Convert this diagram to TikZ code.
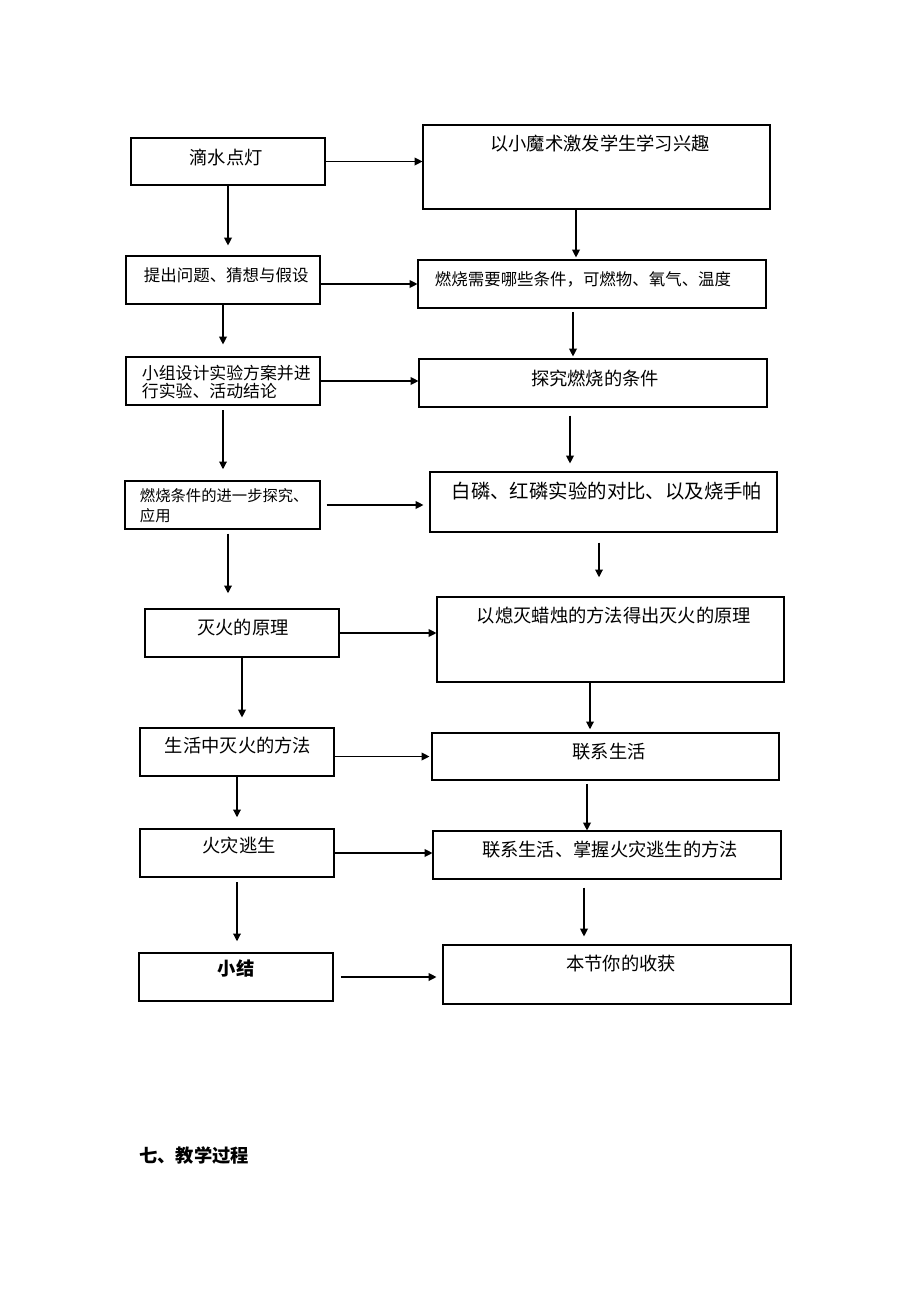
\documentclass[tikz,border=0pt]{standalone}
\usepackage{fontspec}
\setmainfont{Noto Sans CJK SC}
\usepackage{tikz}
\usetikzlibrary{arrows.meta}
\usetikzlibrary{fit}

\begin{document}
\begin{tikzpicture}[x=0.025cm,y=-0.025cm,
    box/.style={draw,line width=0.8pt,inner sep=0pt},
    big/.style={font=\fontsize{13}{15}\selectfont},
    bigbold/.style={font=\fontsize{13}{15}\selectfont\bfseries},
    small/.style={font=\fontsize{11.7}{13}\selectfont},
    arr/.style={line width=0.8pt,-{Triangle[length=5.5pt,width=5.5pt]}}]
    \useasboundingbox (0,0) rectangle (920,1302);
    % left column
    \node[box,fit={(131,138) (325,185)}] (l1) {};
    \node[box,fit={(126,256) (320,304)}] (l2) {};
    \node[box,fit={(126,357) (320,405)}] (l3) {};
    \node[box,fit={(125,481) (320,529)}] (l4) {};
    \node[box,fit={(145,609) (339,657)}] (l5) {};
    \node[box,fit={(140,728) (334,776)}] (l6) {};
    \node[box,fit={(140,829) (334,877)}] (l7) {};
    \node[box,fit={(139,953) (333,1001)}] (l8) {};
    % right column
    \node[box,fit={(423,125) (770,209)}] (r1) {};
    \node[box,fit={(418,260) (766,308)}] (r2) {};
    \node[box,fit={(419,359) (767,407)}] (r3) {};
    \node[box,fit={(430,472) (777,532)}] (r4) {};
    \node[box,fit={(437,597) (784,682)}] (r5) {};
    \node[box,fit={(432,733) (779,780)}] (r6) {};
    \node[box,fit={(433,831) (781,879)}] (r7) {};
    \node[box,fit={(443,945) (791,1004)}] (r8) {};
    % texts
    \node[big] (l1t) at (226,157) {滴水点灯};
    \node[small,anchor=west] (l2t) at (139,275) {提出问题、猜想与假设};
    \node[anchor=west,align=left,font=\fontsize{12}{12.8}\selectfont] (l3t) at (137,382) {小组设计实验方案并进\\行实验、活动结论};
    \node[anchor=west,align=left,font=\fontsize{10.9}{14.2}\selectfont] (l4t) at (135,506) {燃烧条件的进一步探究、\\应用};
    \node[big] (l5t) at (243,628) {灭火的原理};
    \node[big] (l6t) at (238,746) {生活中灭火的方法};
    \node[big] (l7t) at (239,845) {火灾逃生};
    \node[bigbold] (l8t) at (236,968) {小结};
    \node[big] (r1t) at (600,144) {以小魔术激发学生学习兴趣};
    \node[small,anchor=west] (r2t) at (430,279) {燃烧需要哪些条件，可燃物、氧气、温度};
    \node[big] (r3t) at (595,378) {探究燃烧的条件};
    \node[font=\fontsize{13.8}{15}\selectfont] (r4t) at (607,491) {白磷、红磷实验的对比、以及烧手帕};
    \node[big] (r5t) at (614,616) {以熄灭蜡烛的方法得出灭火的原理};
    \node[big] (r6t) at (609,752) {联系生活};
    \node[big] (r7t) at (610,850) {联系生活、掌握火灾逃生的方法};
    \node[big] (r8t) at (621,964) {本节你的收获};
    \node[bigbold] (title) at (194,1155) {七、教学过程};
    % across
    \draw[arr] (l1.east) -- (l1.east -| r1.west);
    \draw[arr] (r2.west -| l2.east) -- (r2.west);
    \draw[arr] (l3.east) -- (l3.east -| r3.west);
    \draw[arr,shorten <=0.15cm,shorten >=0.15cm] (l4.east) -- (l4.east -| r4.west);
    \draw[arr] (l5.east) -- (l5.east -| r5.west);
    \draw[arr,shorten >=0.05cm] (r6.west -| l6.east) -- (r6.west);
    \draw[arr] (l7.east) -- (l7.east -| r7.west);
    \draw[arr,shorten <=0.18cm,shorten >=0.15cm] (l8.east) -- (l8.east -| r8.west);
    % down, left
    \draw[arr,shorten >=0.25cm] (l1.south) -- (l1.south |- l2.north);
    \draw[arr,shorten >=0.3cm] (l2.south) -- (l2.south |- l3.north);
    \draw[arr,shorten <=0.12cm,shorten >=0.28cm] (l3.south) -- (l3.south |- l4.north);
    \draw[arr,shorten <=0.1cm,shorten >=0.38cm] (l4.south -| 228,0) -- (l5.north -| 228,0);
    \draw[arr,shorten >=0.25cm] (l5.south) -- (l5.south |- l6.north);
    \draw[arr,shorten >=0.28cm] (l6.south) -- (l6.south |- l7.north);
    \draw[arr,shorten <=0.12cm,shorten >=0.28cm] (l7.south) -- (l7.south |- l8.north);
    % down, right
    \draw[arr,shorten >=0.05cm] (r1.south -| 576,0) -- (r2.north -| 576,0);
    \draw[arr,shorten <=0.08cm,shorten >=0.05cm] (r2.south -| 573,0) -- (r3.north -| 573,0);
    \draw[arr,shorten <=0.2cm,shorten >=0.2cm] (r3.south -| 570,0) -- (r4.north -| 570,0);
    \draw[arr,shorten <=0.25cm,shorten >=0.48cm] (r4.south -| 599,0) -- (r5.north -| 599,0);
    \draw[arr,shorten >=0.08cm] (r5.south -| 590,0) -- (r6.north -| 590,0);
    \draw[arr,shorten <=0.08cm] (r6.south -| 587,0) -- (r7.north -| 587,0);
    \draw[arr,shorten <=0.2cm,shorten >=0.2cm] (r7.south -| 584,0) -- (r8.north -| 584,0);
\end{tikzpicture}
\end{document}
